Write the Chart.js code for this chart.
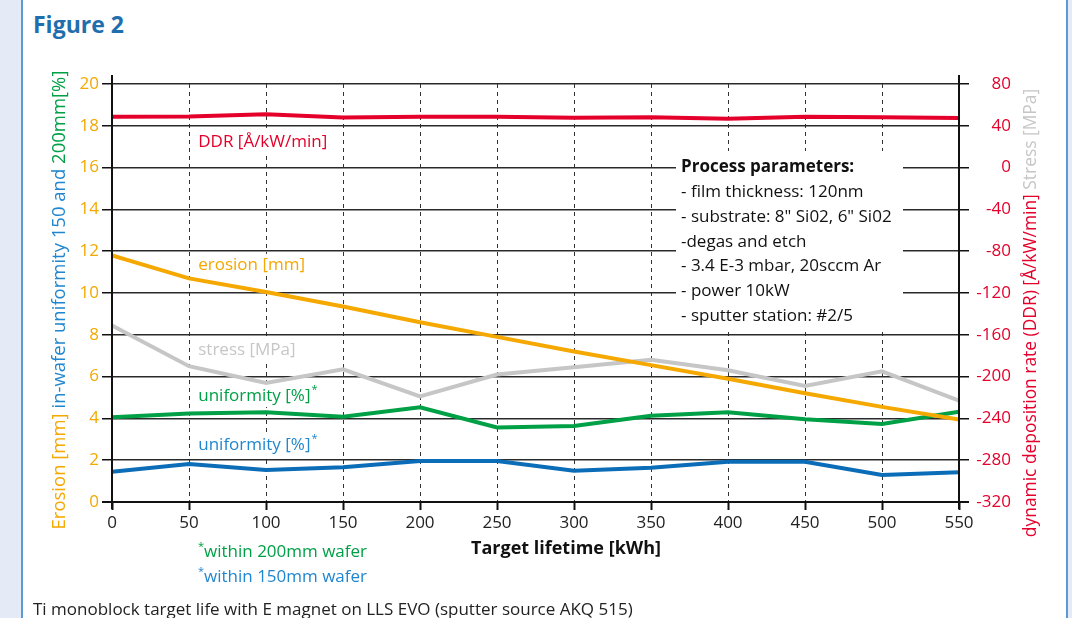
<!DOCTYPE html>
<html>
<head>
<meta charset="utf-8">
<script src="https://cdn.jsdelivr.net/npm/chart.js@4.4.0/dist/chart.umd.min.js"></script>
<style>
  html, body { margin: 0; padding: 0; background: #fff; }
  body { width: 1072px; height: 618px; position: relative; overflow: hidden;
         font-family: 'Open Sans', sans-serif; }
  #band { position: absolute; left: 0; top: 0; width: 21px; height: 618px; background: #e4ebf6; }
  #lineL { position: absolute; left: 21px; top: 0; width: 2px; height: 618px; background: #5b9bd5; }
  #lineR { position: absolute; left: 1066px; top: 0; width: 2px; height: 618px; background: #5b9bd5; }
  #bandR { position: absolute; left: 1068px; top: 0; width: 4px; height: 618px; background: #e4ebf6; }
  #title { position: absolute; left: 33px; top: 8px; font-size: 23px; font-weight: bold; color: #1f6fae; }
  #chart { position: absolute; left: 0; top: 0; }
  .note { position: absolute; left: 198px; font-size: 17px; }
  .note sup { font-size: 11px; }
  #caption { position: absolute; left: 33px; top: 597px; font-size: 17px; color: #222; white-space: nowrap; }
</style>
</head>
<body>
<div id="band"></div><div id="lineL"></div><div id="lineR"></div><div id="bandR"></div>
<div id="title">Figure 2</div>
<canvas id="chart" width="1072" height="618"></canvas>
<div class="note" style="top:538px;color:#00a046"><sup>*</sup>within 200mm wafer</div>
<div class="note" style="top:563px;color:#1f86cf"><sup>*</sup>within 150mm wafer</div>
<div id="caption">Ti monoblock target life with E magnet on LLS EVO (sputter source AKQ 515)</div>
<script>
// Target lifetime [kWh]
const lifetime = [0, 50, 100, 150, 200, 250, 300, 350, 400, 450, 500, 550];
// left axis series
const erosion = [11.8, 10.7, 10.05, 9.35, 8.6, 7.9, 7.2, 6.55, 5.9, 5.2, 4.55, 3.95];
const uniformity200 = [4.05, 4.24, 4.29, 4.08, 4.53, 3.57, 3.64, 4.13, 4.29, 3.96, 3.73, 4.32];
const uniformity150 = [1.45, 1.82, 1.53, 1.66, 1.96, 1.96, 1.5, 1.64, 1.93, 1.93, 1.29, 1.42];
// right axis series
const stress = [-151, -190, -206, -193, -219, -198, -191, -184, -194, -209, -195, -223];
const ddr = [48.7, 48.9, 51, 48, 48.7, 48.7, 47.8, 48.3, 46.8, 48.6, 48.3, 47.5];

const processLines = [
  'Process parameters:',
  '- film thickness: 120nm',
  '- substrate: 8" Si02, 6" Si02',
  '-degas and etch',
  '- 3.4 E-3 mbar, 20sccm Ar',
  '- power 10kW',
  '- sputter station: #2/5'
];

const FONT = "'Open Sans', sans-serif";
const C = {
  orange: '#f5a800',
  red: '#e4002b',
  gray: '#c6c6c6',
  green: '#00a046',
  blue: '#0b6db7',
  blueText: '#1f86cf',
  grid: '#2a2a2a'
};

function pts(ys) {
  return ys.map((v, i) => ({ x: lifetime[i], y: v }));
}

function lineSet(label, data, color, axis) {
  return {
    label: label,
    data: pts(data),
    yAxisID: axis,
    borderColor: color,
    borderWidth: 4,
    pointRadius: 0,
    fill: false,
    tension: 0
  };
}

// plot labels, placed in data coordinates (left axis)
const plotLabels = [
  { text: 'DDR [Å/kW/min]', x: 56, y: 17.2, color: C.red },
  { text: 'erosion [mm]', x: 56, y: 11.35, color: C.orange },
  { text: 'stress [MPa]', x: 56, y: 7.27, color: C.gray },
  { text: 'uniformity [%]', x: 56, y: 5.07, color: C.green, sup: true },
  { text: 'uniformity [%]', x: 56, y: 2.73, color: C.blueText, sup: true }
];

function drawRotated(ctx, parts, cx, cy, size) {
  ctx.save();
  ctx.font = size + 'px ' + FONT;
  const total = parts.reduce((s, p) => s + ctx.measureText(p[0]).width, 0);
  ctx.translate(cx, cy);
  ctx.rotate(-Math.PI / 2);
  ctx.textBaseline = 'middle';
  ctx.textAlign = 'left';
  let x = -total / 2;
  parts.forEach(p => {
    ctx.fillStyle = p[1];
    ctx.fillText(p[0], x, 0);
    x += ctx.measureText(p[0]).width;
  });
  ctx.restore();
}

const decor = {
  id: 'decor',
  beforeDatasetsDraw(chart) {
    const ctx = chart.ctx;
    const xs = chart.scales.x, ys = chart.scales.y;
    ctx.save();
    // process parameters box
    ctx.fillStyle = '#fff';
    ctx.fillRect(676, 151, 227, 178);
    ctx.textBaseline = 'middle';
    ctx.textAlign = 'left';
    processLines.forEach((t, i) => {
      ctx.font = (i === 0 ? 'bold ' : '') + '17px ' + FONT;
      ctx.fillStyle = '#111';
      ctx.fillText(t, 681, 167 + i * 24.9);
    });
    // series labels
    plotLabels.forEach(l => {
      ctx.font = '17px ' + FONT;
      const px = xs.getPixelForValue(l.x);
      const py = ys.getPixelForValue(l.y);
      let w = ctx.measureText(l.text).width + (l.sup ? 9 : 0);
      ctx.fillStyle = '#fff';
      ctx.fillRect(px - 3, py - 11, w + 6, 22);
      ctx.fillStyle = l.color;
      ctx.fillText(l.text, px, py);
      if (l.sup) {
        ctx.font = '11px ' + FONT;
        ctx.fillText('*', px + w - 8, py - 6);
      }
    });
    ctx.restore();
  },
  afterDraw(chart) {
    const ctx = chart.ctx;
    const a = chart.chartArea;
    ctx.save();
    ctx.strokeStyle = '#111';
    ctx.lineWidth = 2;
    ctx.beginPath();
    ctx.moveTo(a.left, a.top - 9); ctx.lineTo(a.left, a.bottom + 7);
    ctx.moveTo(a.right, a.top - 9); ctx.lineTo(a.right, a.bottom + 7);
    ctx.moveTo(a.left - 10, a.bottom); ctx.lineTo(a.right + 10, a.bottom);
    ctx.stroke();
    // axis titles
    drawRotated(ctx, [
      ['Erosion [mm] ', C.orange],
      ['in-wafer uniformity 150 and ', C.blueText],
      ['200mm[%]', C.green]
    ], 60, 300, 18.5);
    drawRotated(ctx, [
      ['dynamic deposition rate (DDR) [Å/kW/min] ', C.red],
      ['Stress [MPa]', C.gray]
    ], 1031, 313, 17.4);
    ctx.font = 'bold 18px ' + FONT;
    ctx.fillStyle = '#111';
    ctx.textAlign = 'center';
    ctx.textBaseline = 'middle';
    ctx.fillText('Target lifetime [kWh]', 566, 549);
    ctx.restore();
  }
};

new Chart(document.getElementById('chart'), {
  type: 'line',
  data: {
    datasets: [
      lineSet('erosion [mm]', erosion, C.orange, 'y'),
      lineSet('stress [MPa]', stress, C.gray, 'y2'),
      lineSet('uniformity 200mm [%]', uniformity200, C.green, 'y'),
      lineSet('uniformity 150mm [%]', uniformity150, C.blue, 'y'),
      lineSet('DDR [Å/kW/min]', ddr, C.red, 'y2')
    ]
  },
  options: {
    responsive: false,
    animation: false,
    devicePixelRatio: 1,
    layout: { padding: { top: 84, left: 0, right: 61, bottom: 0 } },
    plugins: { legend: { display: false }, tooltip: { enabled: false } },
    scales: {
      x: {
        type: 'linear',
        min: 0,
        max: 550,
        afterFit: s => { s.height = 116; },
        ticks: { stepSize: 50, color: '#222', font: { family: FONT, size: 17 }, padding: 3 },
        grid: { color: '#333', lineWidth: 1, tickLength: 8, tickColor: '#111', tickWidth: 2, tickBorderDash: [] },
        border: { display: false, dash: [4, 4] }
      },
      y: {
        position: 'left',
        min: 0,
        max: 20,
        afterFit: s => { s.width = 112; },
        ticks: { stepSize: 2, color: '#f2a900', font: { family: FONT, size: 17 }, padding: 3 },
        grid: { color: C.grid, lineWidth: 1.5, tickLength: 10, tickColor: '#111' },
        border: { display: false }
      },
      y2: {
        position: 'right',
        min: -320,
        max: 80,
        afterFit: s => { s.width = 52; },
        ticks: { stepSize: 40, color: C.red, font: { family: FONT, size: 17 }, padding: 3, crossAlign: 'far' },
        grid: { drawOnChartArea: false, tickLength: 10, tickColor: '#111', lineWidth: 1.5 },
        border: { display: false }
      }
    }
  },
  plugins: [decor]
});
</script>
</body>
</html>
